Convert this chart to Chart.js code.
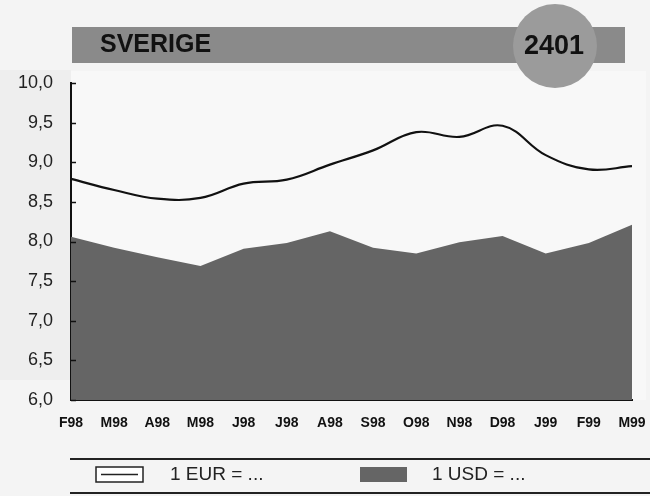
<!DOCTYPE html>
<html>
<head>
<meta charset="utf-8">
<script src="https://cdn.jsdelivr.net/npm/chart.js@4/dist/chart.umd.min.js"></script>
<style>
  html, body { margin: 0; padding: 0; background: #f4f4f4; }
  #wrap { width: 650px; height: 496px; position: relative; }
</style>
</head>
<body>
<div id="wrap"><canvas id="kurs-chart" width="650" height="496"></canvas></div>
<script>
// data
const months = ['F98', 'M98', 'A98', 'M98', 'J98', 'J98', 'A98', 'S98', 'O98', 'N98', 'D98', 'J99', 'F99', 'M99'];
const eurSek = [8.79, 8.65, 8.54, 8.55, 8.73, 8.78, 8.97, 9.15, 9.38, 9.32, 9.46, 9.09, 8.91, 8.95];
const usdSek = [8.06, 7.92, 7.80, 7.69, 7.91, 7.98, 8.13, 7.92, 7.85, 7.99, 8.07, 7.85, 7.98, 8.21];
const yTicks = [6.0, 6.5, 7.0, 7.5, 8.0, 8.5, 9.0, 9.5, 10.0];
const titleText = 'SVERIGE';
const codeText = '2401';
const seriesNames = ['1 EUR = ...', '1 USD = ...'];

const fillGrey = '#656565';

// header, legend, backgrounds
const decor = {
  id: 'decor',
  beforeDraw(chart) {
    const { ctx, chartArea: a } = chart;
    ctx.save();
    ctx.fillStyle = '#f4f4f4';
    ctx.fillRect(0, 0, chart.width, chart.height);
    ctx.fillStyle = '#eeeeee';
    ctx.fillRect(0, 70, a.left, 310);
    ctx.fillStyle = '#f8f8f8';
    ctx.fillRect(a.left, a.top - 12, a.right - a.left + 14, a.bottom - a.top + 12);
    ctx.restore();
  },
  afterDraw(chart) {
    const { ctx, chartArea: a } = chart;
    const y = chart.scales.y;
    ctx.save();
    // inward y ticks
    ctx.strokeStyle = '#111';
    ctx.lineWidth = 1.5;
    yTicks.forEach(v => {
      const py = Math.round(y.getPixelForValue(v)) + 0.5;
      ctx.beginPath();
      ctx.moveTo(a.left, py);
      ctx.lineTo(a.left + 5, py);
      ctx.stroke();
    });
    // header bar
    ctx.fillStyle = '#8a8a8a';
    ctx.fillRect(72, 27, 553, 36);
    ctx.fillStyle = '#9b9b9b';
    ctx.beginPath();
    ctx.arc(555, 46, 42, 0, Math.PI * 2);
    ctx.fill();
    ctx.fillStyle = '#111';
    ctx.font = 'bold 25px "Liberation Sans", Arial, sans-serif';
    ctx.textBaseline = 'middle';
    ctx.textAlign = 'left';
    ctx.fillText(titleText, 100, 45);
    ctx.font = 'bold 27px "Liberation Sans", Arial, sans-serif';
    ctx.textAlign = 'center';
    ctx.fillText(codeText, 554, 47);
    // legend
    ctx.strokeStyle = '#222';
    ctx.lineWidth = 2;
    ctx.beginPath();
    ctx.moveTo(70, 459); ctx.lineTo(650, 459);
    ctx.moveTo(70, 493); ctx.lineTo(650, 493);
    ctx.stroke();
    ctx.fillStyle = '#ffffff';
    ctx.fillRect(96, 467, 47, 15);
    ctx.lineWidth = 1.5;
    ctx.strokeRect(96, 467, 47, 15);
    ctx.beginPath();
    ctx.moveTo(101, 474.5); ctx.lineTo(138, 474.5);
    ctx.stroke();
    ctx.fillStyle = fillGrey;
    ctx.fillRect(360, 467, 47, 15);
    ctx.fillStyle = '#222';
    ctx.font = '19px "Liberation Sans", Arial, sans-serif';
    ctx.textAlign = 'left';
    ctx.fillText(seriesNames[0], 170, 475);
    ctx.fillText(seriesNames[1], 432, 475);
    ctx.restore();
  }
};

const ctxKurs = document.getElementById('kurs-chart');

new Chart(ctxKurs, {
  type: 'line',
  data: {
    labels: months,
    datasets: [{
      label: seriesNames[0],
      data: eurSek,
      borderColor: '#111',
      borderWidth: 2.2,
      pointRadius: 0,
      tension: 0.4,
      fill: false
    },
    {
      label: seriesNames[1],
      data: usdSek,
      borderColor: fillGrey,
      borderWidth: 0,
      backgroundColor: fillGrey,
      pointRadius: 0,
      tension: 0,
      fill: 'start'
    }]
  },
  options: {
    responsive: false,
    animation: false,
    layout: {
      padding: { top: 83, right: 18, bottom: 0, left: 0 }
    },
    plugins: {
      legend: { display: false },
      tooltip: { enabled: false }
    },
    scales: {
      x: {
        offset: false,
        afterFit: (scale) => {
          scale.height = 96;
          scale.paddingLeft = 0;
          scale.paddingRight = 0;
        },
        border: { display: true, color: '#111', width: 2 },
        grid: { drawOnChartArea: false, drawTicks: false },
        ticks: {
          autoSkip: false,
          maxRotation: 0,
          color: '#111',
          padding: 15,
          font: { family: '"Liberation Sans", Arial, sans-serif', size: 14, weight: 'bold' }
        }
      },
      y: {
        min: 6,
        max: 10,
        afterFit: (scale) => { scale.width = 71; },
        afterBuildTicks: (scale) => { scale.ticks = yTicks.map(v => ({ value: v })); },
        border: { display: true, color: '#111', width: 2 },
        grid: { drawOnChartArea: false, drawTicks: false },
        ticks: {
          color: '#222',
          padding: 18,
          font: { family: '"Liberation Sans", Arial, sans-serif', size: 18 },
          callback: (value) => value.toFixed(1).replace('.', ',')
        }
      }
    }
  },
  plugins: [decor]
});
</script>
</body>
</html>
